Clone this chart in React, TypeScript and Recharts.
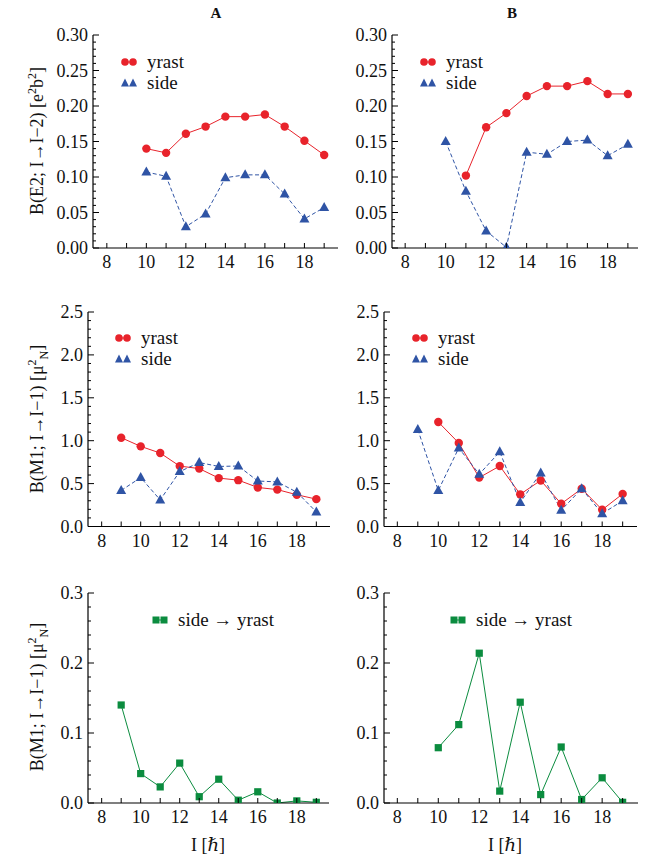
import React from "react";
import { LineChart, Line, XAxis, YAxis, Legend } from "recharts";

const SERIF = '"Liberation Serif", "DejaVu Serif", serif';

const RED = "#e8232b";
const BLUE = "#2f54a5";
const GREEN = "#0b8c3f";

// spin values I on the x axis
const spins = [9, 10, 11, 12, 13, 14, 15, 16, 17, 18, 19];

// B(E2) in e^2 b^2
const e2YrastA = [null, 0.140, 0.134, 0.161, 0.171, 0.185, 0.185, 0.188, 0.171, 0.151, 0.131];
const e2SideA = [null, 0.107, 0.101, 0.030, 0.048, 0.099, 0.103, 0.103, 0.076, 0.041, 0.057];
const e2YrastB = [null, null, 0.102, 0.170, 0.190, 0.214, 0.228, 0.228, 0.235, 0.217, 0.217];
const e2SideB = [null, 0.150, 0.080, 0.024, 0.001, 0.135, 0.132, 0.150, 0.152, 0.130, 0.146];

// B(M1) in mu_N^2
const m1YrastA = [1.035, 0.934, 0.856, 0.704, 0.675, 0.564, 0.540, 0.455, 0.430, 0.370, 0.319];
const m1SideA = [0.42, 0.57, 0.31, 0.64, 0.745, 0.70, 0.705, 0.53, 0.52, 0.40, 0.17];
const m1YrastB = [null, 1.218, 0.973, 0.57, 0.705, 0.375, 0.537, 0.265, 0.44, 0.195, 0.38];
const m1SideB = [1.13, 0.42, 0.915, 0.61, 0.87, 0.28, 0.625, 0.19, 0.44, 0.15, 0.30];

// side -> yrast B(M1)
const crossA = [0.140, 0.042, 0.023, 0.057, 0.009, 0.034, 0.004, 0.016, 0.0, 0.003, 0.001];
const crossB = [null, 0.079, 0.112, 0.214, 0.017, 0.144, 0.012, 0.080, 0.005, 0.036, 0.001];

// axis tick labels
const xMajor = [8, 10, 12, 14, 16, 18];
const e2Major = [0, 0.05, 0.1, 0.15, 0.2, 0.25, 0.3];
const m1Major = [0, 0.5, 1.0, 1.5, 2.0, 2.5];
const crossMajor = [0, 0.1, 0.2, 0.3];

const xTicks = [8, ...spins];

// minor ticks between the labelled ones
const withMinor = (major: number[], n: number) => {
  const out: number[] = [];
  for (let i = 0; i < major.length - 1; i++) {
    const step = (major[i + 1] - major[i]) / n;
    for (let k = 0; k < n; k++) out.push(+(major[i] + k * step).toFixed(4));
  }
  out.push(major[major.length - 1]);
  return out;
};

const isIn = (arr: number[], v: number) => arr.some((a) => Math.abs(a - v) < 1e-6);

const makeTick = (side: string, major: number[], digits: number) => (props: any) => {
  const { x, y, payload, index } = props;
  const v = payload.value;
  const big = isIn(major, v);
  const len = side === "bottom" || side === "top" ? 5 : big ? 6 : 3;
  let line;
  if (side === "bottom") line = <line x1={x} x2={x} y1={y} y2={y - len} stroke="#000" />;
  else if (side === "top") line = <line x1={x} x2={x} y1={y} y2={y + len} stroke="#000" />;
  else if (side === "left") line = <line x1={x} x2={x + len} y1={y} y2={y} stroke="#000" />;
  else line = <line x1={x} x2={x - len} y1={y} y2={y} stroke="#000" />;
  let label = null;
  if (big && side === "bottom")
    label = (
      <text x={x} y={y + 14} dy="0.35em" textAnchor="middle" fontFamily={SERIF} fontSize={18} fill="#111">
        {v}
      </text>
    );
  if (big && side === "left")
    label = (
      <text x={x - 5} y={y} dy="0.35em" textAnchor="end" fontFamily={SERIF} fontSize={18} fill="#111">
        {v.toFixed(digits)}
      </text>
    );
  return (
    <g key={`t-${side}-${index}`}>
      {line}
      {label}
    </g>
  );
};

const circleDot = (color: string) => (p: any) =>
  p.cy == null || p.value == null ? (
    <g key={`c-${p.index}`} />
  ) : (
    <circle key={`c-${p.index}`} cx={p.cx} cy={p.cy} r={4.2} fill={color} />
  );

const triangleDot = (color: string) => (p: any) =>
  p.cy == null || p.value == null ? (
    <g key={`tr-${p.index}`} />
  ) : (
    <path
      key={`tr-${p.index}`}
      d={`M${p.cx},${p.cy - 5.5} L${p.cx + 5},${p.cy + 3.5} L${p.cx - 5},${p.cy + 3.5} Z`}
      fill={color}
    />
  );

const squareDot = (color: string) => (p: any) =>
  p.cy == null || p.value == null ? (
    <g key={`s-${p.index}`} />
  ) : (
    <rect key={`s-${p.index}`} x={p.cx - 3.6} y={p.cy - 3.6} width={7.2} height={7.2} fill={color} />
  );

const LegendIcon = ({ kind, color }: { kind: string; color: string }) => (
  <svg width={16} height={12} style={{ display: "block" }}>
    {kind === "circle" && (
      <>
        <line x1={4} x2={12} y1={6} y2={6} stroke={color} />
        <circle cx={4} cy={6} r={3.8} fill={color} />
        <circle cx={12} cy={6} r={3.8} fill={color} />
      </>
    )}
    {kind === "triangle" && (
      <>
        <path d="M4,1.5 L8,9.5 L0,9.5 Z" fill={color} />
        <path d="M12,1.5 L16,9.5 L8,9.5 Z" fill={color} />
      </>
    )}
    {kind === "square" && (
      <>
        <line x1={4} x2={12} y1={6} y2={6} stroke={color} />
        <rect x={0.5} y={2.5} width={7} height={7} fill={color} />
        <rect x={8.5} y={2.5} width={7} height={7} fill={color} />
      </>
    )}
  </svg>
);

const legendContent = (items: { label: string; kind: string; color: string }[]) => () => (
  <div style={{ fontFamily: SERIF, fontSize: 19, color: "#111" }}>
    {items.map((it) => (
      <div key={it.label} style={{ display: "flex", alignItems: "center", height: 21 }}>
        <LegendIcon kind={it.kind} color={it.color} />
        <span style={{ marginLeft: 10 }}>{it.label}</span>
      </div>
    ))}
  </div>
);

interface PanelProps {
  box: { left: number; right: number; top: number; bottom: number };
  xDomain: [number, number];
  yMajor: number[];
  yMinorN: number;
  digits: number;
  series: { key: string; values: (number | null)[]; color: string; kind: string; dashed?: boolean }[];
  legendItems: { label: string; kind: string; color: string }[];
  legendX: number;
  legendY: number;
}

const Panel = ({ box, xDomain, yMajor, yMinorN, digits, series, legendItems, legendX, legendY }: PanelProps) => {
  const w = box.right - box.left + 70;
  const h = box.bottom - box.top + 40;
  const yTicks = withMinor(yMajor, yMinorN);
  const yDomain: [number, number] = [yMajor[0], yMajor[yMajor.length - 1]];
  const data = spins.map((I, i) => {
    const row: any = { I };
    series.forEach((s) => (row[s.key] = s.values[i]));
    return row;
  });
  return (
    <div style={{ position: "absolute", left: box.left - 60, top: box.top - 10 }}>
      <LineChart width={w} height={h} data={data} margin={{ top: 10, right: 10, left: 0, bottom: 0 }}>
        <XAxis
          dataKey="I"
          type="number"
          domain={xDomain}
          allowDataOverflow
          ticks={xTicks}
          interval={0}
          height={30}
          tickSize={0}
          tickMargin={0}
          tickLine={false}
          axisLine={{ stroke: "#000", strokeWidth: 1.2 }}
          tick={makeTick("bottom", xMajor, 0)}
        />
        <XAxis
          xAxisId="top"
          orientation="top"
          type="number"
          domain={xDomain}
          allowDataOverflow
          ticks={xTicks}
          interval={0}
          height={0}
          tickSize={0}
          tickMargin={0}
          tickLine={false}
          axisLine={{ stroke: "#000", strokeWidth: 1.2 }}
          tick={makeTick("top", xMajor, 0)}
        />
        <YAxis
          type="number"
          domain={yDomain}
          allowDataOverflow
          ticks={yTicks}
          interval={0}
          width={60}
          tickSize={0}
          tickMargin={0}
          tickLine={false}
          axisLine={{ stroke: "#000", strokeWidth: 1.2 }}
          tick={makeTick("left", yMajor, digits)}
        />
        <YAxis
          yAxisId="right"
          orientation="right"
          type="number"
          domain={yDomain}
          allowDataOverflow
          ticks={yTicks}
          interval={0}
          width={0}
          tickSize={0}
          tickMargin={0}
          tickLine={false}
          axisLine={{ stroke: "#000", strokeWidth: 1.2 }}
          tick={makeTick("right", yMajor, digits)}
        />
        <Legend
          layout="vertical"
          align="center"
          verticalAlign="middle"
          wrapperStyle={{ left: 60 + legendX, top: 10 + legendY - 10.5, width: 200 }}
          content={legendContent(legendItems)}
        />
        {series.map((s) => (
          <Line
            key={s.key}
            dataKey={s.key}
            stroke={s.color}
            strokeWidth={1}
            strokeDasharray={s.dashed ? "4 2.5" : undefined}
            type="linear"
            isAnimationActive={false}
            dot={s.kind === "circle" ? circleDot(s.color) : s.kind === "triangle" ? triangleDot(s.color) : squareDot(s.color)}
            activeDot={false}
          />
        ))}
      </LineChart>
    </div>
  );
};

const twoLegend = [
  { label: "yrast", kind: "circle", color: RED },
  { label: "side", kind: "triangle", color: BLUE },
];
const crossLegend = [{ label: "side \u2192 yrast", kind: "square", color: GREEN }];

const YLabel = ({ cy, children }: { cy: number; children: React.ReactNode }) => (
  <div
    style={{
      position: "absolute",
      left: 32 - 130,
      top: cy - 12,
      width: 260,
      height: 24,
      lineHeight: "24px",
      textAlign: "center",
      transform: "rotate(-90deg)",
      fontFamily: SERIF,
      fontSize: 18,
      color: "#111",
      whiteSpace: "nowrap",
    }}
  >
    {children}
  </div>
);

const Text = ({ x, y, bold, children }: { x: number; y: number; bold?: boolean; children: React.ReactNode }) => (
  <div
    style={{
      position: "absolute",
      left: x - 50,
      top: y - 11,
      width: 100,
      height: 22,
      lineHeight: "22px",
      textAlign: "center",
      fontFamily: SERIF,
      fontSize: bold ? 15 : 18,
      fontWeight: bold ? "bold" : "normal",
      color: "#111",
    }}
  >
    {children}
  </div>
);

export default function App() {
  return (
    <div style={{ position: "absolute", left: 0, top: 0, width: 657, height: 862, background: "#fff" }}>
      <Text x={216} y={13} bold>A</Text>
      <Text x={512} y={13} bold>B</Text>

      <Panel
        box={{ left: 93, right: 338, top: 35, bottom: 248 }}
        xDomain={[7.3, 19.7]}
        yMajor={e2Major}
        yMinorN={5}
        digits={2}
        series={[
          { key: "yrast", values: e2YrastA, color: RED, kind: "circle" },
          { key: "side", values: e2SideA, color: BLUE, kind: "triangle", dashed: true },
        ]}
        legendItems={twoLegend}
        legendX={28}
        legendY={27}
      />
      <Panel
        box={{ left: 392, right: 638, top: 35, bottom: 248 }}
        xDomain={[7.35, 19.5]}
        yMajor={e2Major}
        yMinorN={5}
        digits={2}
        series={[
          { key: "yrast", values: e2YrastB, color: RED, kind: "circle" },
          { key: "side", values: e2SideB, color: BLUE, kind: "triangle", dashed: true },
        ]}
        legendItems={twoLegend}
        legendX={28}
        legendY={27}
      />
      <Panel
        box={{ left: 88, right: 330, top: 311.5, bottom: 526 }}
        xDomain={[7.3, 19.7]}
        yMajor={m1Major}
        yMinorN={5}
        digits={1}
        series={[
          { key: "yrast", values: m1YrastA, color: RED, kind: "circle" },
          { key: "side", values: m1SideA, color: BLUE, kind: "triangle", dashed: true },
        ]}
        legendItems={twoLegend}
        legendX={27}
        legendY={26.5}
      />
      <Panel
        box={{ left: 384, right: 637, top: 311.5, bottom: 526 }}
        xDomain={[7.35, 19.7]}
        yMajor={m1Major}
        yMinorN={5}
        digits={1}
        series={[
          { key: "yrast", values: m1YrastB, color: RED, kind: "circle" },
          { key: "side", values: m1SideB, color: BLUE, kind: "triangle", dashed: true },
        ]}
        legendItems={twoLegend}
        legendX={28}
        legendY={26.5}
      />
      <Panel
        box={{ left: 88, right: 329, top: 592.5, bottom: 802.5 }}
        xDomain={[7.3, 19.65]}
        yMajor={crossMajor}
        yMinorN={5}
        digits={1}
        series={[{ key: "cross", values: crossA, color: GREEN, kind: "square" }]}
        legendItems={crossLegend}
        legendX={64}
        legendY={27.5}
      />
      <Panel
        box={{ left: 384, right: 638, top: 592.5, bottom: 802.5 }}
        xDomain={[7.35, 19.75]}
        yMajor={crossMajor}
        yMinorN={5}
        digits={1}
        series={[{ key: "cross", values: crossB, color: GREEN, kind: "square" }]}
        legendItems={crossLegend}
        legendX={66}
        legendY={27.5}
      />

      <YLabel cy={141}>
        B(E2; I{"\u2192"}I{"\u2212"}2) [e<sup style={{ fontSize: 12 }}>2</sup>b<sup style={{ fontSize: 12 }}>2</sup>]
      </YLabel>
      <YLabel cy={419}>
        B(M1; I{"\u2192"}I{"\u2212"}1) [{"\u03bc"}<sup style={{ fontSize: 12 }}>2</sup>
        <sub style={{ fontSize: 12 }}>N</sub>]
      </YLabel>
      <YLabel cy={697}>
        B(M1; I{"\u2192"}I{"\u2212"}1) [{"\u03bc"}<sup style={{ fontSize: 12 }}>2</sup>
        <sub style={{ fontSize: 12 }}>N</sub>]
      </YLabel>

      <Text x={208} y={845}>I [{"\u210f"}]</Text>
      <Text x={505} y={845}>I [{"\u210f"}]</Text>
    </div>
  );
}
